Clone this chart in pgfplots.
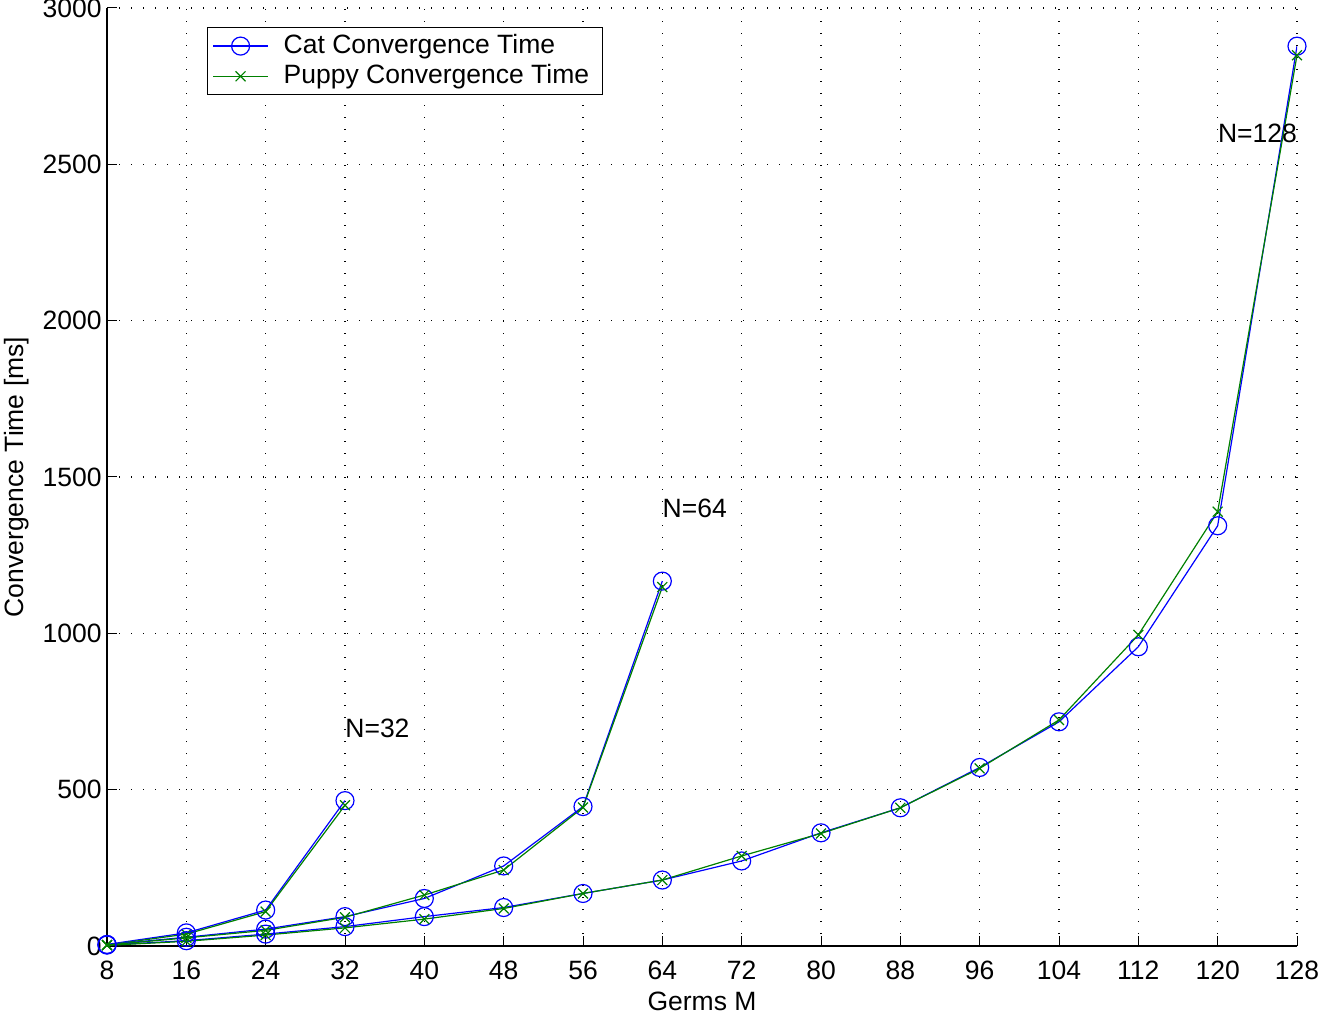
\documentclass[border=0pt]{standalone}
\usepackage{pgfplots}
\pgfplotsset{compat=1.18}
\usepackage{fontspec}
\setmainfont{Liberation Sans}
\definecolor{mblue}{rgb}{0,0,1}
\definecolor{mgreen}{rgb}{0,0.5,0}
\begin{document}
\fontsize{13.3}{16}\selectfont
\begin{tikzpicture}
\begin{axis}[
  name=ax,
  scale only axis,
  width=595bp, height=469bp,
  xmin=8, xmax=128, ymin=0, ymax=3000,
  xtick={8,16,...,128},
  ytick={0,500,...,3000},
  axis lines*=left,
  axis line style={black, line width=0.6bp},
  tick style={black, line width=0.5bp},
  tick align=inside,
  major tick length=5bp,
  grid=major,
  grid style={black, dash pattern=on 0.6bp off 5.4bp, line width=0.6bp},
  /pgf/number format/assume math mode=true,
  /pgf/number format/1000 sep={},
  scaled y ticks=false,
  ticklabel style={font=\fontsize{13.3}{16}\selectfont},
  yticklabel style={inner sep=1bp, xshift=-1.5bp},
  xticklabel style={inner sep=1bp, yshift=-6.5bp},
  xlabel={Germs M},
  ylabel={Convergence Time [ms]},
  label style={font=\fontsize{13.3}{16}\selectfont},
  xlabel style={yshift=-0.5bp},
  ylabel style={yshift=1bp},
  legend style={at={(rel axis cs:0,1)}, anchor=north west, xshift=50bp, yshift=-9.5bp,
    draw=black, line width=0.5bp, font=\fontsize{13.3}{16}\selectfont,
    inner xsep=1.5bp, inner ysep=1.5bp, row sep=-0.5bp,
    nodes={inner sep=2bp}},
  legend cell align=left,
  legend image code/.code={
    \path (-1bp,0) (33bp,0);
    \draw[mark repeat=2,mark phase=2] plot coordinates {(0bp,0bp) (13.75bp,0bp) (27.5bp,0bp)};
  },
  every axis plot/.append style={line width=0.6bp},
]
% Cat N=32
\addplot[mblue, mark=o, mark size=4.5bp, mark options={line width=0.6bp}] coordinates {(8,5) (16,42) (24,115) (32,465)};
\addlegendentry{Cat Convergence Time\hspace*{3bp}}
% Puppy N=32
\addplot[mgreen, mark=x, mark size=3.5bp, mark options={line width=0.6bp}] coordinates {(8,3) (16,38) (24,110) (32,450)};
\addlegendentry{Puppy Convergence Time\hspace*{3bp}}
% Cat N=64
\addplot[mblue, mark=o, mark size=4.5bp, forget plot] coordinates {(8,4) (16,28) (24,54) (32,94) (40,152) (48,256) (56,446) (64,1167)};
% Cat N=128
\addplot[mblue, mark=o, mark size=4.5bp, forget plot] coordinates {(8,3) (16,17) (24,38) (32,62) (40,94) (48,123) (56,168) (64,211) (72,272) (80,362) (88,442) (96,571) (104,717) (112,957) (120,1344) (128,2878)};
% Puppy N=64
\addplot[mgreen, mark=x, mark size=3.5bp, forget plot] coordinates {(8,3) (16,26) (24,50) (32,92) (40,163) (48,243) (56,443) (64,1148)};
% Puppy N=128
\addplot[mgreen, mark=x, mark size=3.5bp, forget plot] coordinates {(8,2) (16,15) (24,35) (32,58) (40,86) (48,120) (56,168) (64,211) (72,288) (80,360) (88,442) (96,568) (104,723) (112,995) (120,1389) (128,2849)};
\node[anchor=west, inner sep=0pt] at (axis cs:32,697) {N=32};
\node[anchor=west, inner sep=0pt] at (axis cs:64,1401) {N=64};
\node[anchor=west, inner sep=0pt] at (axis cs:120,2600) {N=128};
\end{axis}
\pgfresetboundingbox
\path ([shift={(-53.5bp,-34bp)}]ax.south west) rectangle ([shift={(13bp,4bp)}]ax.north east);
\end{tikzpicture}
\end{document}
